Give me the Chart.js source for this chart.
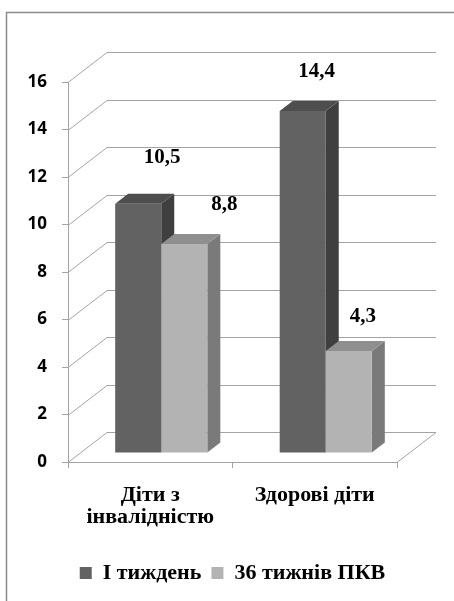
<!DOCTYPE html>
<html lang="uk">
<head>
<meta charset="utf-8">
<script src="https://cdn.jsdelivr.net/npm/chart.js@4.4.1/dist/chart.umd.min.js"></script>
<style>
  html, body { margin: 0; padding: 0; background: #fff; }
  #wrap { width: 454px; height: 601px; position: relative; }
</style>
</head>
<body>
<div id="wrap"><canvas id="chart"></canvas></div>
<script>
const categories = [["Діти з", "інвалідністю"], "Здорові діти"];
const seriesNames = ["І тиждень", "36 тижнів ПКВ"];
const week1Values = [10.5, 14.4];
const week36Values = [8.8, 4.3];
const yMax = 16;
const yStep = 2;

const lineGray = "#a3a3a3";
const serif = "'Liberation Serif', 'Times New Roman', serif";

// wall depth and how far the bars stand into the floor
const WALL_DX = 39, WALL_DY = -30;
const BAR_SHIFT_X = 11, BAR_SHIFT_Y = -9;
const BAR_DX = 13, BAR_DY = -10;

const faces = [
  { front: "#626262", side: "#3f3f3f", top: "#4e4e4e" },
  { front: "#b3b3b3", side: "#7a7a7a", top: "#8f8f8f" }
];

// value labels sit up and to the right of each bar
const labelOffsets = [
  [[35, -55], [25, -48]],
  [[51, -48], [25, -43]]
];

function poly(ctx, pts, fill) {
  ctx.beginPath();
  ctx.moveTo(pts[0][0], pts[0][1]);
  for (let i = 1; i < pts.length; i++) ctx.lineTo(pts[i][0], pts[i][1]);
  ctx.closePath();
  ctx.fillStyle = fill;
  ctx.fill();
}

const box3d = {
  id: "box3d",
  beforeDraw(chart) {
    const ctx = chart.ctx;
    ctx.save();
    ctx.strokeStyle = "#8c8c8c";
    ctx.lineWidth = 1.5;
    ctx.beginPath();
    ctx.moveTo(6.5, chart.height);
    ctx.lineTo(6.5, 12.5);
    ctx.lineTo(chart.width, 12.5);
    ctx.stroke();
    ctx.restore();
  },
  beforeDatasetsDraw(chart) {
    const { ctx, chartArea: a, scales: { y } } = chart;
    ctx.save();
    ctx.strokeStyle = lineGray;
    ctx.lineWidth = 1;
    y.ticks.forEach(t => {
      const py = Math.round(y.getPixelForValue(t.value)) + 0.5;
      ctx.beginPath();
      ctx.moveTo(a.left, py);
      ctx.lineTo(a.left + WALL_DX, py + WALL_DY);
      ctx.lineTo(a.right + WALL_DX, py + WALL_DY);
      ctx.stroke();
    });
    const fy = Math.round(a.bottom) + 0.5;
    ctx.beginPath();
    ctx.moveTo(a.right, fy);
    ctx.lineTo(a.right + WALL_DX, fy + WALL_DY);
    ctx.stroke();
    ctx.restore();
  },
  beforeDatasetDraw() {
    return false;
  },
  afterDatasetsDraw(chart) {
    const ctx = chart.ctx;
    const metas = chart.data.datasets.map((_, i) => chart.getDatasetMeta(i));
    ctx.save();
    chart.data.labels.forEach((_, j) => {
      metas.forEach((meta, i) => {
        const bar = meta.data[j];
        const { x, y, base, width } = bar.getProps(["x", "y", "base", "width"], true);
        const l = x - width / 2 + BAR_SHIFT_X, r = x + width / 2 + BAR_SHIFT_X;
        const t = y + BAR_SHIFT_Y, b = base + BAR_SHIFT_Y;
        const c = faces[i];
        poly(ctx, [[r, t], [r + BAR_DX, t + BAR_DY], [r + BAR_DX, b + BAR_DY], [r, b]], c.side);
        poly(ctx, [[l, t], [r, t], [r + BAR_DX, t + BAR_DY], [l + BAR_DX, t + BAR_DY]], c.top);
        poly(ctx, [[l, t], [r, t], [r, b], [l, b]], c.front);
      });
    });
    ctx.fillStyle = "#000";
    ctx.font = "bold 21px " + serif;
    ctx.textAlign = "center";
    ctx.textBaseline = "middle";
    metas.forEach((meta, i) => {
      meta.data.forEach((bar, j) => {
        const v = chart.data.datasets[i].data[j];
        const [ox, oy] = labelOffsets[i][j];
        ctx.fillText(String(v).replace(".", ","), bar.x + ox, bar.y + oy);
      });
    });
    ctx.restore();
  }
};

new Chart(document.getElementById("chart"), {
  type: "bar",
  data: {
    labels: categories,
    datasets: [
      { label: seriesNames[0], data: week1Values, backgroundColor: faces[0].front, borderWidth: 0 },
      { label: seriesNames[1], data: week36Values, backgroundColor: faces[1].front, borderWidth: 0 }
    ]
  },
  options: {
    responsive: true,
    maintainAspectRatio: false,
    animation: false,
    layout: { padding: { left: 0, right: 57, top: 82, bottom: 7 } },
    datasets: { bar: { categoryPercentage: 0.56, barPercentage: 1 } },
    scales: {
      x: {
        grid: { offset: true, drawOnChartArea: false, tickLength: 6, color: lineGray },
        border: { color: lineGray },
        ticks: {
          color: "#000",
          font: { family: serif, size: 22, weight: "bold", lineHeight: 1.0 },
          padding: 16,
          maxRotation: 0,
          autoSkip: false
        },
        afterFit: s => { s.height = 90; }
      },
      y: {
        min: 0,
        max: yMax,
        grid: { drawOnChartArea: false, tickLength: 6, color: lineGray },
        border: { color: lineGray },
        ticks: {
          stepSize: yStep,
          color: "#000",
          font: { family: "'Open Sans', sans-serif", size: 17, weight: "bold" },
          padding: 15
        },
        afterFit: s => { s.width = 68; }
      }
    },
    plugins: {
      legend: {
        position: "bottom",
        fullSize: false,
        labels: {
          color: "#000",
          font: { family: serif, size: 22, weight: "bold" },
          boxWidth: 12,
          boxHeight: 12,
          padding: 10
        }
      },
      tooltip: { enabled: false }
    }
  },
  plugins: [box3d]
});
</script>
</body>
</html>
